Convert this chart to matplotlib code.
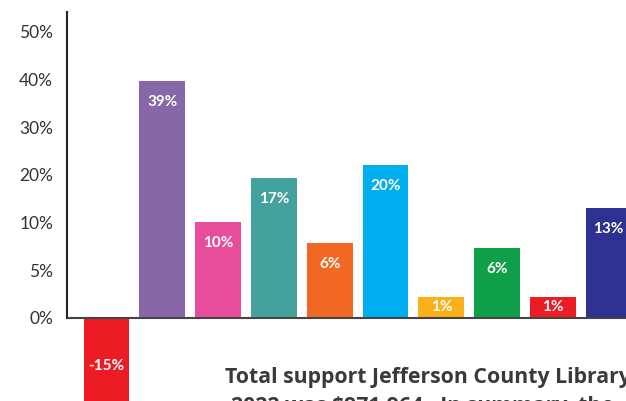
import numpy as np
import matplotlib
matplotlib.use("Agg")
import matplotlib.pyplot as plt

# values printed on the bars, and heights as drawn (in %)
labels = ["-15%", "39%", "10%", "17%", "6%", "20%", "1%", "6%", "1%", "13%"]
heights = [-15, 39.7, 10, 19.3, 7.9, 22.1, 2.2, 7.3, 2.2, 13.1]
colors = ["#ED1C24", "#8767A8", "#E84D9C", "#43A19E", "#F26722",
          "#00AEEF", "#FBB01A", "#109F49", "#ED1C24", "#2E3192"]
ticks = [0, 5, 10, 20, 30, 40, 50]
tick_labels = ["0%", "5%", "10%", "20%", "30%", "40%", "50%"]
units = np.arange(len(ticks))


def fwd(y):
    y = np.asarray(y, float)
    return np.where(y < 0, y / 5, np.where(y > 50, 6 + (y - 50) / 10, np.interp(y, ticks, units)))


def inv(u):
    u = np.asarray(u, float)
    return np.where(u < 0, u * 5, np.where(u > 6, 50 + (u - 6) * 10, np.interp(u, units, ticks)))


fig = plt.figure(figsize=(6.26, 4.01), dpi=100)
ax = fig.add_axes([67 / 626, 0, 1 - 67 / 626, 1 - 12 / 401])
ax.set_yscale("function", functions=(fwd, inv))
ax.set_ylim(-8.7, 54.1)
x = np.arange(len(heights))
ax.set_xlim(-0.708, 9.31)

ax.bar(x, heights, width=0.82, color=colors, zorder=2)
ax.axhline(0, color="#444444", lw=1.5, zorder=3)

for s in ["top", "right", "bottom"]:
    ax.spines[s].set_visible(False)
ax.spines["left"].set_bounds(0, 54.1)
ax.spines["left"].set_color("#222222")
ax.spines["left"].set_linewidth(1.5)
ax.set_xticks([])
ax.set_yticks(ticks)
ax.set_yticklabels(tick_labels, family="Lato", fontsize=12.5, color="#333333")
ax.tick_params(axis="y", length=0, pad=10)
ax.yaxis.set_minor_locator(matplotlib.ticker.NullLocator())

for xi, h, lab in zip(x, heights, labels):
    y0 = ax.transData.transform((0, 0))[1]
    y1 = ax.transData.transform((0, h))[1]
    hpx = abs(y1 - y0)
    off = min(21, hpx / 2) if h > 0 else 48
    ax.annotate(lab, (xi, h if h > 0 else 0), xytext=(0, -off * 0.72),
                textcoords="offset points", ha="center", va="center",
                color="white", fontsize=11, fontweight="bold", family="Lato", zorder=4)

fig.text(225 / 626, 1 - 383 / 401, "Total support Jefferson County Library",
         family="Open Sans", fontweight="bold", fontsize=15.3, color="#3a3a3a", va="baseline")
fig.text(231 / 626, 1 - 412 / 401, "2022 was $971,964.  In summary, the",
         family="Open Sans", fontweight="bold", fontsize=15.3, color="#3a3a3a", va="baseline")

fig.savefig("out.png", dpi=100)
